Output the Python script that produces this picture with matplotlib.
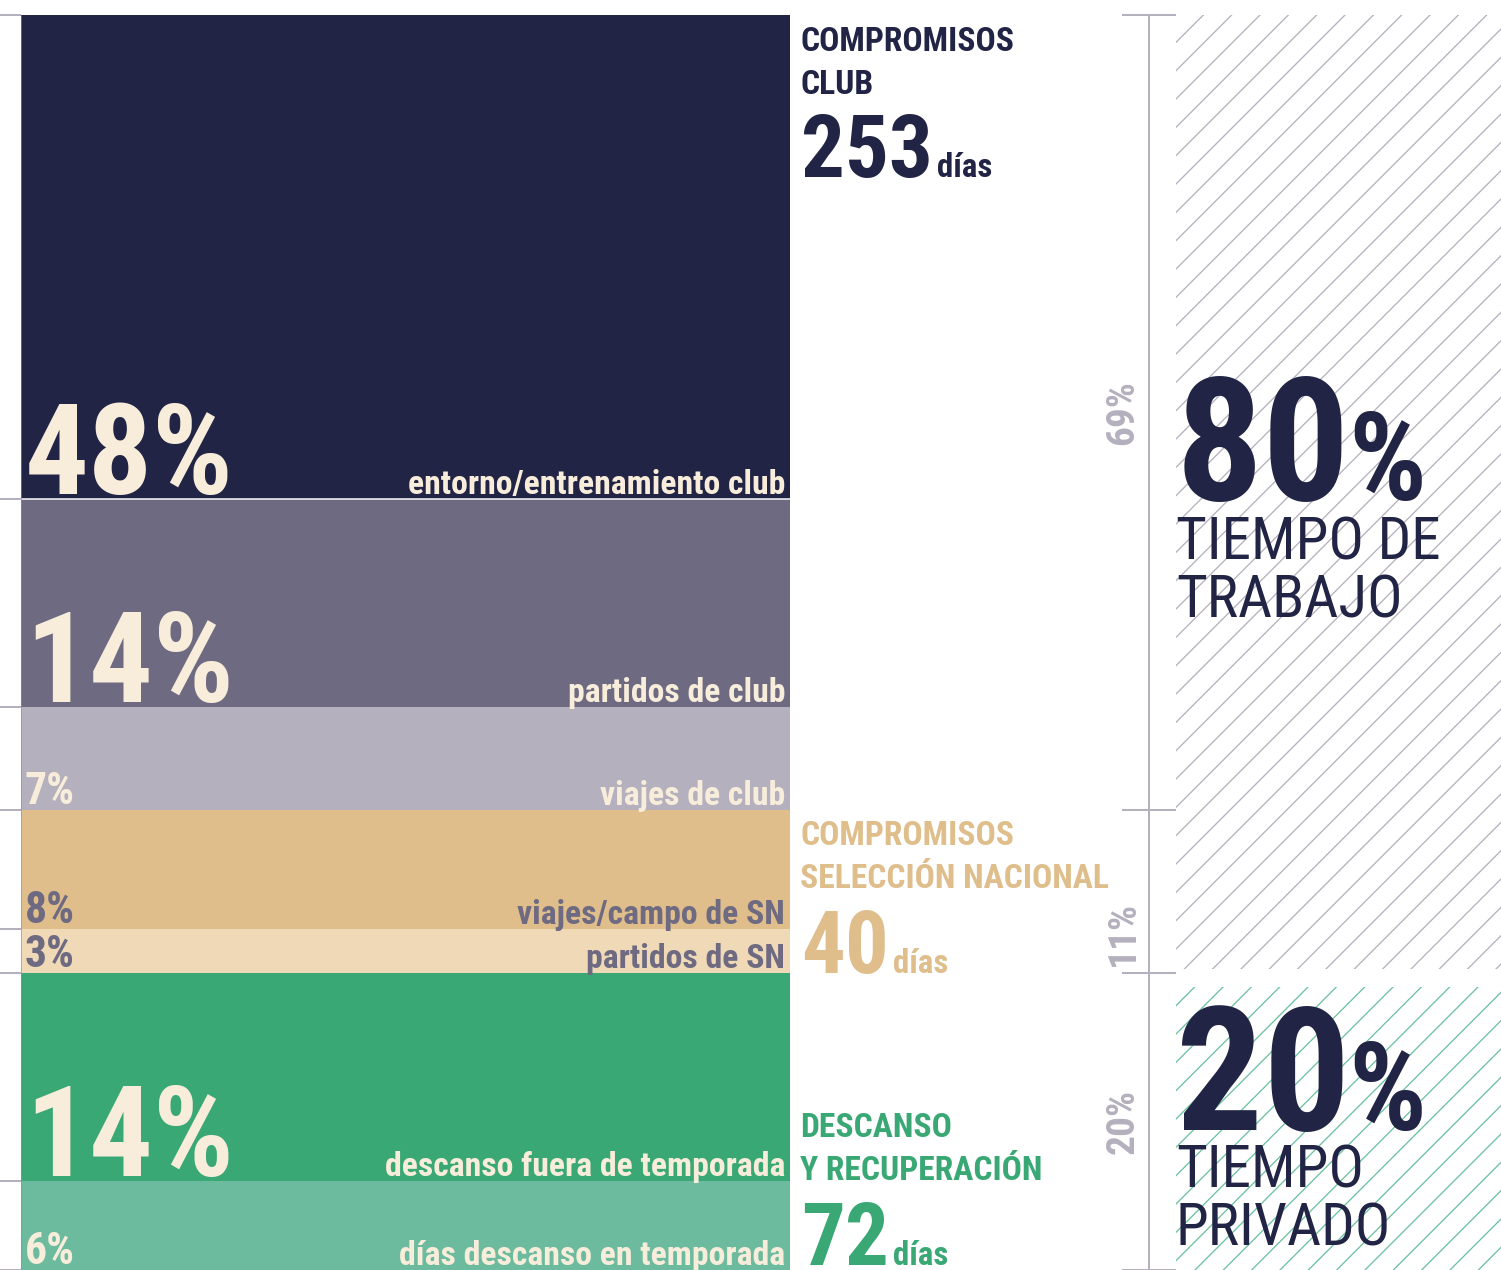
import os
import numpy as np
import matplotlib
matplotlib.use("Agg")
import matplotlib.pyplot as plt
from matplotlib import font_manager as fm
from matplotlib.textpath import TextPath

# ---------------- data ----------------
segments = ["días descanso en temporada", "descanso fuera de temporada", "partidos de SN",
            "viajes/campo de SN", "viajes de club", "partidos de club",
            "entorno/entrenamiento club"]
shares = [6, 14, 3, 8, 7, 14, 48]               # % of the year, bottom -> top
groups = ["DESCANSO\nY RECUPERACIÓN", "COMPROMISOS\nSELECCIÓN NACIONAL", "COMPROMISOS\nCLUB"]
group_days = [72, 40, 253]
group_shares = [20, 11, 69]
summary_labels = ["TIEMPO\nPRIVADO", "TIEMPO DE\nTRABAJO"]
summary_shares = [20, 80]

# ---------------- style ----------------
W, H, DPI = 1501, 1270, 170
PX = 72.0 / DPI
NAVY, PURPLE, LAV = "#212444", "#6e6a81", "#b5b0bd"
TAN, LTAN, GREEN, LGREEN = "#dfbe8b", "#efd9b6", "#3aa874", "#6cbb9e"
CREAM = "#f8eddb"
seg_colors = [LGREEN, GREEN, LTAN, TAN, LAV, PURPLE, NAVY]
seg_text_colors = [CREAM, CREAM, PURPLE, PURPLE, CREAM, CREAM, CREAM]
group_colors = [GREEN, TAN, NAVY]

plt.rcParams["hatch.linewidth"] = 1.3 * PX


def find_font(stems, fallback_weight="bold"):
    files = {}
    for f in fm.fontManager.ttflist:
        files.setdefault(os.path.splitext(os.path.basename(f.fname))[0].lower(), f.fname)
    for s in stems:
        if s.lower() in files:
            return fm.FontProperties(fname=files[s.lower()])
    return fm.FontProperties(family="DejaVu Sans", weight=fallback_weight, stretch="condensed")


BOLD = find_font(["NotoSans-CondensedBold", "RobotoCondensed-Bold", "LiberationSansNarrow-Bold",
                  "DejaVuSansCondensed-Bold", "OpenSans-CondensedBold", "NotoSans-Bold"])
HEAVY = find_font(["NotoSans-CondensedExtraBold", "NotoSans-CondensedBlack", "RobotoCondensed-ExtraBold",
                   "NotoSans-CondensedBold", "RobotoCondensed-Bold", "LiberationSansNarrow-Bold",
                   "DejaVuSansCondensed-Bold", "NotoSans-Bold"])
REG = find_font(["NotoSans-CondensedMedium", "NotoSans-Condensed", "RobotoCondensed-Regular",
                 "LiberationSansNarrow-Regular", "DejaVuSansCondensed", "NotoSans-Regular"],
                fallback_weight="normal")


def size_for(prop, px, ref="H"):
    ext = TextPath((0, 0), ref, size=100, prop=prop).get_extents()
    return px / (ext.height / 100.0) * PX


def width_px(s, prop, size):
    ext = TextPath((0, 0), s, size=size, prop=prop).get_extents()
    return ext.x1 / PX


def fp(prop, size):
    p = prop.copy()
    p.set_size(size)
    return p


# ---------------- scale (largest block drawn compressed) ----------------
BREAK = float(sum(shares[:-1]))
K = 0.68


def fwd(y):
    y = np.asarray(y, float)
    return np.where(y <= BREAK, y, BREAK + (y - BREAK) * K)


def inv(y):
    y = np.asarray(y, float)
    return np.where(y <= BREAK, y, BREAK + (y - BREAK) / K)


fig = plt.figure(figsize=(W / DPI, H / DPI), dpi=DPI)
fig.patch.set_facecolor("white")
TOP = 15
AX_H = (H - TOP) / H


def scaled_axes(rect):
    a = fig.add_axes(rect)
    a.set_yscale("function", functions=(fwd, inv))
    a.set_ylim(0, 100)
    a.set_xlim(0, 1)
    a.axis("off")
    return a


# ---------------- main stacked bar ----------------
ax = scaled_axes([21 / W, 0, (790 - 21) / W, AX_H])
bottoms = np.concatenate([[0], np.cumsum(shares)[:-1]])
ax.bar(0.5, shares, bottom=bottoms, width=1.0, color=seg_colors, linewidth=0)
ax.hlines(bottoms[-1], 0, 1, color="white", lw=1.5 * PX)
bounds = list(bottoms) + [100]
ax.hlines(bounds, -21 / 769, 0, transform=ax.get_yaxis_transform(), color=LAV,
          lw=2 * PX, clip_on=False)
ax.vlines(0, 0, 100, color="#8f8ca3", lw=0.6 * PX, clip_on=False)

S_BIG = size_for(HEAVY, 90)
S_PCT = size_for(BOLD, 31)
S_LBL = size_for(BOLD, 27, "d") * 0.95
for b, v, name, tc in zip(bottoms, shares, segments, seg_text_colors):
    big = v >= 10
    ax.annotate(f"{v}%", xy=(0, b), xycoords=("axes fraction", "data"),
                xytext=(4, 5 if big else 6), textcoords="offset pixels",
                ha="left", va="baseline", color=tc,
                fontproperties=fp(HEAVY if big else BOLD, S_BIG if big else S_PCT))
    ax.annotate(name, xy=(1, b), xycoords=("axes fraction", "data"),
                xytext=(-5, 5), textcoords="offset pixels",
                ha="right", va="baseline", color=tc, fontproperties=fp(BOLD, S_LBL))

# ---------------- middle column: group titles ----------------
S_TITLE = size_for(BOLD, 26) * 0.92
S_DAYS = size_for(HEAVY, 65) * 0.95
S_DIAS = size_for(BOLD, 25, "d")
title_base = [1137, 845, 51]
days_base = [1265, 973, 177]
for g, d, c, tb, db in zip(groups, group_days, group_colors, title_base, days_base):
    for i, line in enumerate(g.split("\n")):
        fig.text(800 / W, 1 - (tb + i * 43) / H, line, color=c, ha="left", va="baseline",
                 fontproperties=fp(BOLD, S_TITLE))
    fig.text(801 / W, 1 - db / H, str(d), color=c, ha="left", va="baseline",
             fontproperties=fp(HEAVY, S_DAYS))
    xw = 801 + width_px(str(d), HEAVY, S_DAYS) + 8
    fig.text(xw / W, 1 - db / H, "días", color=c, ha="left", va="baseline",
             fontproperties=fp(BOLD, S_DIAS))

# ---------------- right bracket ----------------
rax = scaled_axes([1122 / W, 0, 54 / W, AX_H])
gb = np.concatenate([[0], np.cumsum(group_shares)])
rax.vlines(0.5, 0, 100, color=LAV, lw=2 * PX, clip_on=False)
rax.hlines(gb, 0, 1, color=LAV, lw=2 * PX, clip_on=False)
S_BR = size_for(BOLD, 28)
label_shift_px = [0, -42, 0]
for lo, hi, v, sh in zip(gb[:-1], gb[1:], group_shares, label_shift_px):
    mid = float(inv((fwd(lo) + fwd(hi)) / 2))
    rax.annotate(f"{v}%", xy=(0.02, mid), xycoords=("axes fraction", "data"),
                 xytext=(0, sh), textcoords="offset pixels", rotation=90,
                 ha="center", va="center", color=LAV, fontproperties=fp(BOLD, S_BR))

# ---------------- hatched summary blocks ----------------
hax = scaled_axes([1176 / W, 0, (W - 1176) / W, AX_H])
split = summary_shares[0]
hax.bar(0.5, summary_shares[1] - 0.3, bottom=split + 0.3, width=1.0, fill=False,
        hatch="//", edgecolor=LAV, linewidth=0)
hax.bar(0.5, summary_shares[0] - 0.9, bottom=0, width=1.0, fill=False,
        hatch="//", edgecolor="#6cc1a0", linewidth=0)

S_SNUM = size_for(HEAVY, 132) * 0.93
S_SPCT = size_for(HEAVY, 87)
S_SLBL = size_for(REG, 42)
num_base = [1130, 500]
lbl_base = [1188, 560]
for lab, v, nb, lb in zip(summary_labels, summary_shares, num_base, lbl_base):
    fig.text(1176 / W, 1 - nb / H, str(v), color=NAVY, ha="left", va="baseline",
             fontproperties=fp(HEAVY, S_SNUM))
    xw = 1176 + width_px(str(v), HEAVY, S_SNUM) + 6
    fig.text(xw / W, 1 - nb / H, "%", color=NAVY, ha="left", va="baseline",
             fontproperties=fp(HEAVY, S_SPCT))
    for i, line in enumerate(lab.split("\n")):
        fig.text(1176 / W, 1 - (lb + i * 57) / H, line, color=NAVY, ha="left", va="baseline",
                 fontproperties=fp(REG, S_SLBL))

fig.savefig("out.png", dpi=DPI, facecolor="white")
